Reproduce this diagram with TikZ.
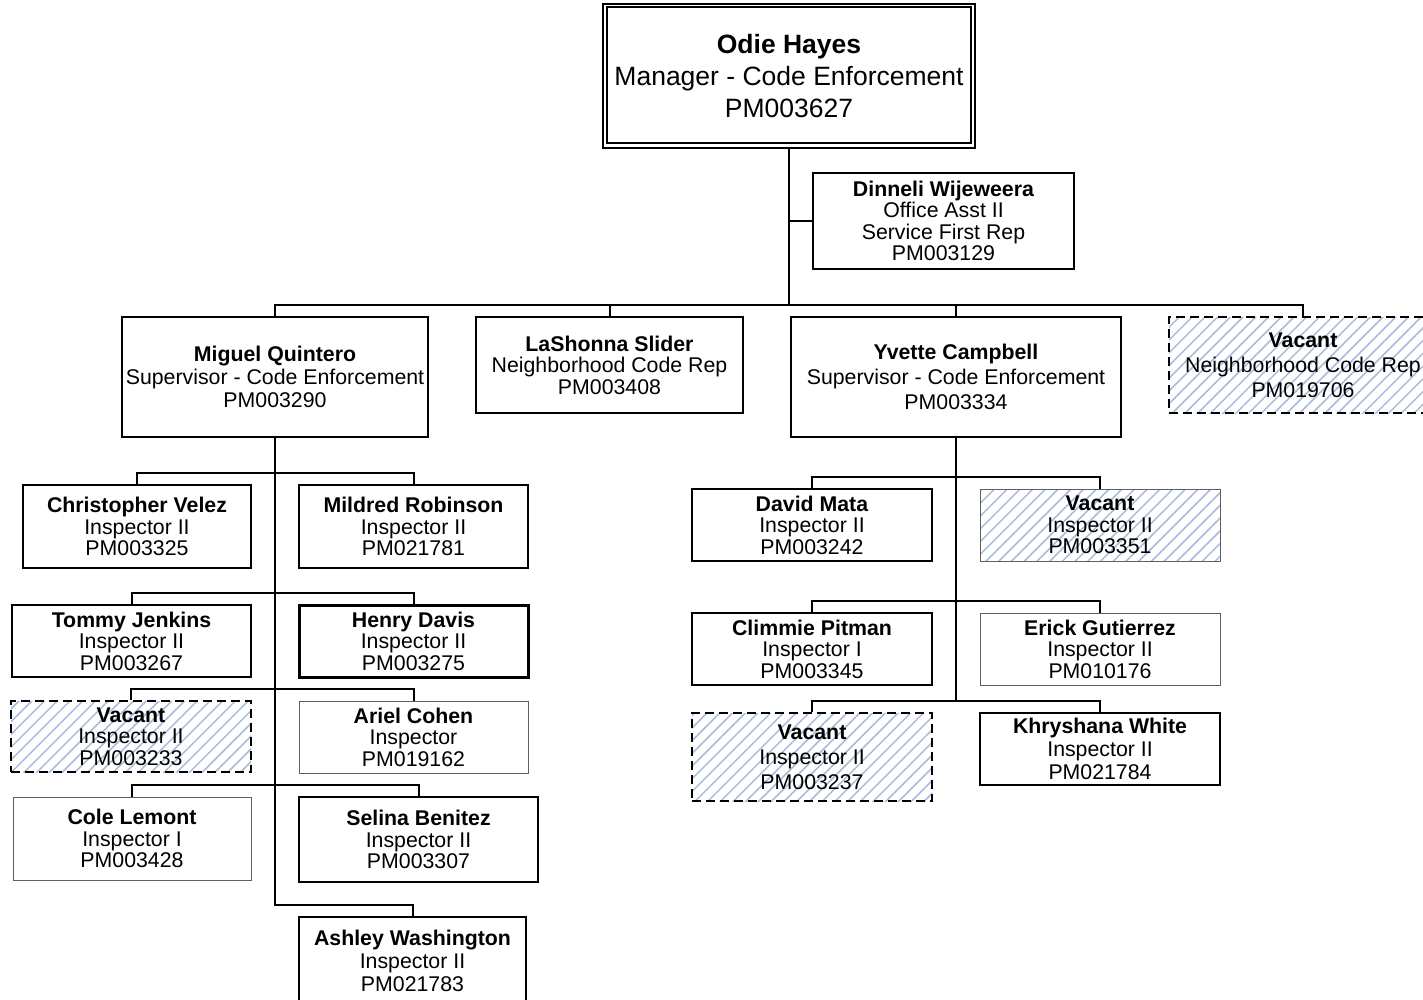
\documentclass[tikz,border=0pt]{standalone}
\usepackage{fontspec}
\setmainfont{Liberation Sans}
\usetikzlibrary{patterns.meta}
\definecolor{hatch}{RGB}{165,188,222}
\definecolor{thingray}{RGB}{95,95,95}
\begin{document}
\begin{tikzpicture}[x=1pt,y=-1pt,
  box/.style={draw=black, line width=2pt, fill=white, inner sep=0pt, align=center, text=black,
              font=\fontsize{21.3}{21.5}\selectfont},
  ls/.style={font=\fontsize{21.3}{#1}\selectfont},
  thinb/.style={draw=thingray, line width=1pt},
  heavy/.style={line width=3pt},
  hatched/.style={preaction={fill=white}, pattern={Lines[angle=45,distance=9pt,line width=1.5pt]}, pattern color=hatch},
  vacdash/.style={dash pattern=on 9pt off 5pt},
  conn/.style={draw=black, line width=2pt},
]
\useasboundingbox (0,0) rectangle (1423,1000);

% top level
\node[box, minimum width=372pt, minimum height=144pt, font=\fontsize{26.5}{32}\selectfont] (odie) at (789,76)
  {\textbf{Odie Hayes}\\Manager - Code Enforcement\\PM003627};
\draw[line width=1.5pt] ([shift={(5,4)}]odie.north west) rectangle ([shift={(-5,-6)}]odie.south east);

\node[box, minimum width=261pt, minimum height=96pt] (dinneli) at (943.5,221)
  {\textbf{Dinneli Wijeweera}\\Office Asst II\\Service First Rep\\PM003129};

% second level
\node[box, ls=23, minimum width=306pt, minimum height=120pt] (miguel) at (275,377)
  {\textbf{Miguel Quintero}\\Supervisor - Code Enforcement\\PM003290};
\node[box, minimum width=267pt, minimum height=96pt] (lashonna) at (609.5,365)
  {\textbf{LaShonna Slider}\\Neighborhood Code Rep\\PM003408};
\node[box, ls=25, minimum width=330pt, minimum height=120pt] (yvette) at (956,377)
  {\textbf{Yvette Campbell}\\Supervisor - Code Enforcement\\PM003334};
\node[box, ls=25, hatched, vacdash, minimum width=268pt, minimum height=96pt] (vacn) at (1303,365)
  {\textbf{Vacant}\\Neighborhood Code Rep\\PM019706};

% Miguel's team
\node[box, minimum width=228pt, minimum height=83pt] (chris) at (137,526.5)
  {\textbf{Christopher Velez}\\Inspector II\\PM003325};
\node[box, minimum width=229pt, minimum height=83pt] (mildred) at (413.5,526.5)
  {\textbf{Mildred Robinson}\\Inspector II\\PM021781};
\node[box, minimum width=239pt, minimum height=72pt] (tommy) at (131.5,641)
  {\textbf{Tommy Jenkins}\\Inspector II\\PM003267};
\node[box, heavy, minimum width=229pt, minimum height=72pt] (henry) at (413.5,641)
  {\textbf{Henry Davis}\\Inspector II\\PM003275};
\node[box, hatched, vacdash, minimum width=240pt, minimum height=71pt] (vaca) at (131,736.5)
  {\textbf{Vacant}\\Inspector II\\PM003233};
\node[box, thinb, minimum width=229pt, minimum height=72pt] (ariel) at (413.5,737)
  {\textbf{Ariel Cohen}\\Inspector\\PM019162};
\node[box, thinb, minimum width=238pt, minimum height=83pt] (cole) at (132,838.5)
  {\textbf{Cole Lemont}\\Inspector I\\PM003428};
\node[box, minimum width=239pt, minimum height=85pt] (selina) at (418.5,839.5)
  {\textbf{Selina Benitez}\\Inspector II\\PM003307};
\node[box, ls=23, minimum width=227pt, minimum height=87pt] (ashley) at (412.5,960.5)
  {\textbf{Ashley Washington}\\Inspector II\\PM021783};

% Yvette's team
\node[box, minimum width=240pt, minimum height=72pt] (david) at (812,525)
  {\textbf{David Mata}\\Inspector II\\PM003242};
\node[box, thinb, hatched, minimum width=240pt, minimum height=72pt] (vacb) at (1100,525)
  {\textbf{Vacant}\\Inspector II\\PM003351};
\node[box, minimum width=240pt, minimum height=72pt] (climmie) at (812,649)
  {\textbf{Climmie Pitman}\\Inspector I\\PM003345};
\node[box, thinb, minimum width=240pt, minimum height=72pt] (erick) at (1100,649)
  {\textbf{Erick Gutierrez}\\Inspector II\\PM010176};
\node[box, ls=25, hatched, vacdash, minimum width=240pt, minimum height=88pt] (vacc) at (812,757)
  {\textbf{Vacant}\\Inspector II\\PM003237};
\node[box, ls=23, minimum width=240pt, minimum height=72pt] (khry) at (1100,749)
  {\textbf{Khryshana White}\\Inspector II\\PM021784};

% bus points
\coordinate (b0) at (789,305);
\coordinate (m1) at (275,473);
\coordinate (m2) at (275,593);
\coordinate (m3) at (275,689);
\coordinate (m4) at (275,785);
\coordinate (m5) at (275,905);
\coordinate (y1) at (956,477);
\coordinate (y2) at (956,601);
\coordinate (y3) at (956,701);

% connectors
\draw[conn] (odie.south) -- (b0);
\draw[conn] (dinneli.west) -- (dinneli.west -| b0);
\draw[conn] (miguel.north) |- (b0) -| (vacn.north);
\draw[conn] (lashonna.north) -- (lashonna.north |- b0);
\draw[conn] (yvette.north) -- (yvette.north |- b0);

\draw[conn] (miguel.south) -- (m5) -| (ashley.north);
\draw[conn] (chris.north) |- (m1) -| (mildred.north);
\draw[conn] (tommy.north) |- (m2) -| (henry.north);
\draw[conn] (vaca.north) |- (m3) -| (ariel.north);
\draw[conn] (cole.north) |- (m4) -| (selina.north);

\draw[conn] (yvette.south) -- (y3);
\draw[conn] (david.north) |- (y1) -| (vacb.north);
\draw[conn] (climmie.north) |- (y2) -| (erick.north);
\draw[conn] (vacc.north) |- (y3) -| (khry.north);
\end{tikzpicture}
\end{document}
